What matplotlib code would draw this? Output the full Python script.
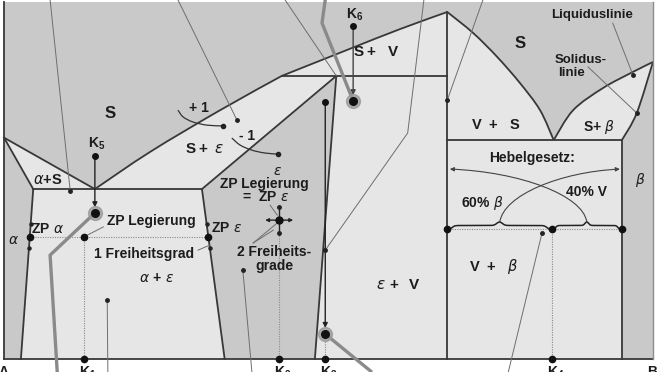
import numpy as np
import matplotlib
matplotlib.use("Agg")
import matplotlib.pyplot as plt
from matplotlib.patches import Polygon, PathPatch, FancyArrowPatch
from matplotlib.path import Path

plt.rcParams['font.family'] = ['Liberation Sans', 'DejaVu Sans']
plt.rcParams['mathtext.fontset'] = 'custom'
plt.rcParams['mathtext.rm'] = 'Liberation Sans'
plt.rcParams['mathtext.bf'] = 'Liberation Sans:bold'
plt.rcParams['mathtext.it'] = 'DejaVu Sans:italic'
plt.rcParams['mathtext.sf'] = 'Liberation Sans'

# ---- phase boundaries: composition in % B, temperature in relative units ----
T_TOP = 100.0
X_V = 68.3          # congruently melting compound V
T_V_MAX = 97.2
T_EUT1 = 47.6       # S -> alpha + epsilon
T_PERI = 79.3       # S + V -> epsilon
T_EUT2 = 61.3       # S -> V + beta

liq_alpha_x = [0.0, 14.0]
liq_alpha_T = [62.0, 47.6]
sol_alpha_x = [0.0, 4.5]
sol_alpha_T = [62.0, 47.6]
solvus_alpha_x = [4.5, 2.6]
solvus_alpha_T = [47.6, 0.0]

liq_left_x = [14.0, 22.5, 33.3, 42.8, 52.9, 61.0, 68.3]
liq_left_T = [47.6, 58.0, 69.7, 79.3, 86.6, 92.4, 97.2]
liq_v_x = [68.3, 72.3, 76.0, 79.5, 82.6, 84.7]
liq_v_T = [97.2, 91.3, 84.6, 77.3, 69.7, 61.3]
liq_beta_x = [84.7, 87.7, 92.3, 96.9, 100.0]
liq_beta_T = [61.3, 69.7, 75.9, 80.4, 83.2]
sol_beta_x = [100.0, 97.5, 95.2]
sol_beta_T = [83.2, 68.9, 61.3]
solvus_beta_x = [95.2, 95.2]
solvus_beta_T = [61.3, 0.0]

eps_left_x = [51.2, 30.5, 34.0]
eps_left_T = [79.3, 47.6, 0.0]
eps_right_x = [51.2, 47.9]
eps_right_T = [79.3, 0.0]

# ---- alloys ----
alloy_names = ['K_1', 'K_2', 'K_3', 'K_4']
alloy_x = [12.3, 42.4, 49.5, 84.4]
K5_x, K5_T_start, K5_T_end = 14.0, 56.9, 40.9
K6_x, K6_T_start, K6_T_end = 53.8, 93.3, 72.3
K3_T_start, K3_T_end = 72.0, 7.0

# state point of K1 in alpha + epsilon
ZP1_T = 34.2
ZP1_x = [3.97, 12.3, 31.49]
ZP1_marks_x = [4.11, 3.84, 31.22, 31.71]
ZP1_marks_T = [37.8, 31.1, 37.8, 31.1]
# state point of K2 inside epsilon
ZP2_T = 38.9
ZP2_dx, ZP2_dT = 2.16, 3.6
# lever rule for K4
LEVER_T = 36.4
lever_x = [68.3, 84.4, 95.2]

# leader lines
leaders = [
    ([7.1, 10.2], [100.6, 47.1]),
    ([26.8, 35.9], [100.6, 66.9]),
    ([43.3, 51.2], [100.6, 79.3]),
    ([64.7, 62.2, 49.5], [100.6, 63.3, 30.5]),
    ([73.8, 68.3], [100.6, 72.5]),
    ([93.8, 96.9], [94.1, 79.6]),
    ([90.0, 97.5], [81.8, 68.9]),
    ([15.9, 16.0], [16.5, -3.7]),
    ([36.8, 38.2], [24.9, -3.7]),
    ([82.9, 77.7], [35.3, -3.7]),
]
leader_dots = [(10.2, 47.1), (35.9, 66.9), (49.5, 30.5), (68.3, 72.5),
               (96.9, 79.6), (97.5, 68.9), (15.9, 16.5), (36.8, 24.9), (82.9, 35.3)]
short_leaders = [
    ([15.3, 12.3], [37.0, 34.2]),
    ([29.9, 31.7], [30.5, 31.9]),
    ([41.0, 42.1], [43.1, 40.3]),
    ([38.4, 42.1], [32.5, 38.1]),
    ([38.4, 41.5], [32.5, 36.1]),
]
paths_thick = [
    ([49.5, 49.0, 53.8], [100.6, 94.1, 72.3]),
    ([14.0, 7.1, 8.2], [40.9, 29.1, -3.7]),
    ([49.5, 56.7], [7.0, -3.7]),
]
arc_plus_x = [26.8, 27.6, 29.1, 31.3, 33.7]
arc_plus_T = [69.7, 67.8, 66.4, 65.5, 65.3]
arc_minus_x = [35.1, 36.4, 38.2, 40.2, 42.2]
arc_minus_T = [61.9, 59.9, 58.5, 57.7, 57.4]
lever_arc_a = [(76.4, 38.4), (77.0, 45.9), (85.7, 52.4), (94.9, 53.2)]
lever_arc_b = [(89.8, 38.4), (89.2, 45.9), (79.5, 52.4), (68.7, 53.2)]

DARK = '#c9c9c9'
LIGHT = '#e6e6e6'
EDGE = '#383838'
THIN = '#6e6e6e'
TXT = '#1c1c1c'

fig = plt.figure(figsize=(6.57, 3.72), dpi=100)
ax = fig.add_axes([0, 0, 1, 1])
ax.set_xlim(-0.62, 100.62)
ax.set_ylim(-3.64, 100.56)
ax.axis('off')


def curve(xs, ts):
    """Vertices and codes of a smooth Bezier curve through the given points."""
    p = np.column_stack([xs, ts]).astype(float)
    n = len(p)
    verts = [tuple(p[0])]
    codes = [Path.MOVETO]
    if n == 2:
        verts.append(tuple(p[1]))
        codes.append(Path.LINETO)
        return verts, codes
    for i in range(n - 1):
        p0 = p[i - 1] if i > 0 else p[i]
        p1, p2 = p[i], p[i + 1]
        p3 = p[i + 2] if i + 2 < n else p[i + 1]
        c1 = p1 + (p2 - p0) / 6.0
        c2 = p2 - (p3 - p1) / 6.0
        verts += [tuple(c1), tuple(c2), tuple(p2)]
        codes += [Path.CURVE4] * 3
    return verts, codes


def region(parts):
    """parts: list of (xs, ts, smooth) pieces joined into one closed shape."""
    verts, codes = [], []
    for xs, ts, smooth in parts:
        if smooth:
            v, c = curve(xs, ts)
        else:
            v = list(zip(xs, ts))
            c = [Path.MOVETO] + [Path.LINETO] * (len(v) - 1)
        if verts:
            c = [Path.LINETO] + c[1:]
        verts += v
        codes += c
    verts.append(verts[0])
    codes.append(Path.CLOSEPOLY)
    ax.add_patch(PathPatch(Path(verts, codes), fc=LIGHT, ec='none', zorder=1))


def boundary(xs, ts, smooth=False):
    if smooth:
        v, c = curve(xs, ts)
        ax.add_patch(PathPatch(Path(v, c), fc='none', ec=EDGE, lw=1.3, zorder=3))
    else:
        ax.plot(xs, ts, color=EDGE, lw=1.3, zorder=3, solid_joinstyle='miter')


ax.add_patch(Polygon([(0, 0), (100, 0), (100, T_TOP), (0, T_TOP)], closed=True,
                     fc=DARK, ec='none', zorder=0))

# two-phase fields
region([(liq_alpha_x + [sol_alpha_x[1]], liq_alpha_T + [sol_alpha_T[1]], False)])
region([(liq_left_x[:4], liq_left_T[:4], True),
        (eps_left_x[:2], eps_left_T[:2], False)])
region([([sol_alpha_x[1], eps_left_x[1], eps_left_x[2], solvus_alpha_x[1]],
         [T_EUT1, T_EUT1, 0, 0], False)])
region([(liq_left_x[3:], liq_left_T[3:], True), ([X_V], [T_PERI], False)])
region([([eps_right_x[0], X_V, X_V, eps_right_x[1]], [T_PERI, T_PERI, 0, 0], False)])
region([(liq_v_x, liq_v_T, True), ([X_V], [T_EUT2], False)])
region([(liq_beta_x, liq_beta_T, True), (sol_beta_x, sol_beta_T, True)])
region([([X_V, solvus_beta_x[0], solvus_beta_x[1], X_V], [T_EUT2, T_EUT2, 0, 0], False)])

# phase boundaries
boundary(liq_alpha_x, liq_alpha_T)
boundary(sol_alpha_x, sol_alpha_T)
boundary(solvus_alpha_x, solvus_alpha_T)
boundary(liq_left_x[:4], liq_left_T[:4], True)
boundary(liq_left_x[3:], liq_left_T[3:], True)
boundary(liq_v_x, liq_v_T, True)
boundary(liq_beta_x, liq_beta_T, True)
boundary(sol_beta_x, sol_beta_T, True)
boundary(solvus_beta_x, solvus_beta_T)
boundary(eps_left_x, eps_left_T)
boundary(eps_right_x, eps_right_T)
boundary([sol_alpha_x[1], eps_left_x[1]], [T_EUT1, T_EUT1])
boundary([liq_left_x[3], X_V], [T_PERI, T_PERI])
boundary([X_V, solvus_beta_x[0]], [T_EUT2, T_EUT2])
boundary([X_V, X_V], [0, T_V_MAX])

# frame
ax.plot([0, 0], [0, T_TOP], color=EDGE, lw=1.3, zorder=3)
ax.plot([0, 100], [0, 0], color=EDGE, lw=1.3, zorder=3)
ax.plot([100, 100], [0, T_TOP], color='#8c8c8c', lw=1.0, zorder=3)

# leader lines
for xs, ts in leaders + short_leaders:
    ax.plot(xs, ts, color=THIN, lw=0.7, zorder=4)
for x, t in leader_dots:
    ax.plot(x, t, 'o', color='#222222', ms=2.5, zorder=6)
for xs, ts in paths_thick:
    ax.plot(xs, ts, color='#8a8a8a', lw=2.4, zorder=5, solid_capstyle='butt')

# dotted alloy verticals
dot_kw = dict(color='#8a8a8a', lw=0.8, ls=(0, (1, 1.2)), zorder=4)
ax.plot([alloy_x[0]] * 2, [ZP1_T, 0], **dot_kw)
ax.plot([alloy_x[1]] * 2, [ZP2_T - ZP2_dT, 0], **dot_kw)
ax.plot([alloy_x[2]] * 2, [K3_T_end, 0], **dot_kw)
ax.plot([alloy_x[3]] * 2, [LEVER_T, 0], **dot_kw)
ax.plot([ZP1_x[0], ZP1_x[2]], [ZP1_T] * 2, **dot_kw)
ax.plot([lever_x[0], lever_x[2]], [LEVER_T] * 2, **dot_kw)

arrow_kw = dict(arrowstyle='-|>', color='#222222', lw=1.0, mutation_scale=7,
                shrinkA=0, shrinkB=0)
# cooling paths
ax.annotate('', xy=(K5_x, K5_T_end + 1.6), xytext=(K5_x, K5_T_start),
            arrowprops=arrow_kw, zorder=6)
ax.annotate('', xy=(K6_x, K6_T_end + 1.6), xytext=(K6_x, K6_T_start),
            arrowprops=dict(arrow_kw, color='#444444'), zorder=6)
ax.annotate('', xy=(alloy_x[2], K3_T_end + 1.7), xytext=(alloy_x[2], K3_T_start),
            arrowprops=arrow_kw, zorder=6)
for x, t in [(K5_x, K5_T_start), (K6_x, K6_T_start), (alloy_x[2], K3_T_start)]:
    ax.plot(x, t, 'o', color='#111111', ms=4, zorder=7)
for x, t in [(K5_x, K5_T_end), (K6_x, K6_T_end), (alloy_x[2], K3_T_end)]:
    ax.plot(x, t, 'o', color='#9a9a9a', ms=10, alpha=0.8, zorder=7)
    ax.plot(x, t, 'o', color='#111111', ms=5.5, zorder=8)

# state point K1
for x in ZP1_x:
    ax.plot(x, ZP1_T, 'o', color='#111111', ms=4.5, zorder=7)
ax.plot(ZP1_marks_x, ZP1_marks_T, 'o', color='#222222', ms=2.2, lw=0, zorder=7)

# state point K2 with its two degrees of freedom
k2 = alloy_x[1]
for dx in (-ZP2_dx, ZP2_dx):
    ax.annotate('', xy=(k2 + dx, ZP2_T), xytext=(k2, ZP2_T),
                arrowprops=dict(arrow_kw, mutation_scale=5), zorder=6)
ax.plot([k2, k2], [ZP2_T - ZP2_dT, ZP2_T + ZP2_dT], color='#222222', lw=1.0, zorder=6)
ax.plot([k2, k2], [ZP2_T - ZP2_dT, ZP2_T + ZP2_dT], 'o', color='#222222', ms=2.5, zorder=7)
ax.plot(k2, ZP2_T, 'o', color='#111111', ms=5, zorder=8)

# alloy markers on the composition axis
for x in alloy_x:
    ax.plot(x, 0, 'o', color='#111111', ms=4.5, zorder=7)

# +1 / -1 arcs
for xs, ts in ((arc_plus_x, arc_plus_T), (arc_minus_x, arc_minus_T)):
    v, c = curve(xs, ts)
    ax.add_patch(PathPatch(Path(v, c), fc='none', ec='#333333', lw=0.9, zorder=5))
    ax.plot(xs[-1], ts[-1], 'o', color='#222222', ms=3, zorder=6)


# lever rule braces
def brace(x0, x1, t0, h, k=40.0, n=80):
    u = np.linspace(0, 1, n)

    def sig(v):
        return 1 / (1 + np.exp(-k * v))

    def half(v):
        f = 0.5 * (sig(v - 0.06) + sig(v - 0.94))
        f0 = 0.5 * (sig(-0.06) + sig(-0.94))
        f1 = 0.5 * (sig(0.94) + sig(0.06))
        return (f - f0) / (f1 - f0)

    xm = 0.5 * (x0 + x1)
    xl = x0 + (xm - x0) * u
    xr = xm + (x1 - xm) * u
    yl = t0 + h * half(u)
    yr = t0 + h * half(1 - u)
    ax.plot(np.r_[xl, xr], np.r_[yl, yr], color='#222222', lw=1.1, zorder=6)


brace(lever_x[0] + 0.3, lever_x[1] - 0.3, LEVER_T, 2.0)
brace(lever_x[1] + 0.3, lever_x[2] - 0.3, LEVER_T, 2.0)
for x in lever_x:
    ax.plot(x, LEVER_T, 'o', color='#111111', ms=4.5, zorder=7)

for pts in (lever_arc_a, lever_arc_b):
    p = Path(pts, [Path.MOVETO, Path.CURVE4, Path.CURVE4, Path.CURVE4])
    ax.add_patch(FancyArrowPatch(path=p, arrowstyle='-|>', mutation_scale=6,
                                 color='#444444', lw=0.8, zorder=6))


# labels
def lab(x, t, s, size=10, **kw):
    ax.text(x, t, s, fontsize=size, color=TXT, ha='center', va='center',
            fontweight='bold', zorder=9, **kw)


lab(16.33, 68.9, 'S', 12)
lab(30.05, 70.3, '+ 1', 10)
lab(37.44, 62.5, '- 1', 10)
lab(30.97, 58.8, r'$\mathbf{S+}\ \epsilon$', 11)
lab(14.33, 60.2, r'$\mathbf{K_5}$', 10)
lab(54.08, 96.4, r'$\mathbf{K_6}$', 10)
lab(57.47, 86.0, r'$\mathbf{S+\ \ V}$', 11)
lab(79.5, 88.5, 'S', 12)
lab(90.6, 96.4, 'Liquiduslinie', 9.5)
lab(88.9, 83.75, 'Solidus-', 9.5)
lab(87.5, 80.1, 'linie', 9.5)
lab(75.8, 65.5, r'$\mathbf{V\ +\ \ S}$', 10.5)
lab(91.7, 65.0, r'$\mathbf{S}$+ $\beta$', 10)
lab(6.78, 50.1, r'$\alpha\mathbf{+S}$', 10.5)
lab(42.2, 52.7, r'$\epsilon$', 10)
lab(40.06, 49.0, 'ZP Legierung', 10)
lab(40.2, 45.4, r'$\mathbf{=\ ZP}\ \epsilon$', 10)
lab(81.36, 56.3, 'Hebelgesetz:', 10)
lab(98.0, 50.1, r'$\beta$', 10)
lab(89.7, 46.8, '40% V', 10)
lab(73.65, 43.7, r'$\mathbf{60\%}\ \beta$', 10)
lab(6.78, 36.4, r'$\mathbf{ZP}\ \alpha$', 10)
lab(1.39, 33.3, r'$\alpha$', 10)
lab(22.65, 38.65, 'ZP Legierung', 10)
lab(34.36, 36.7, r'$\mathbf{ZP}\ \epsilon$', 10)
lab(21.57, 29.4, '1 Freiheitsgrad', 10)
lab(41.6, 30.0, '2 Freiheits-', 10)
lab(41.6, 26.05, 'grade', 10)
lab(23.57, 22.7, r'$\alpha\ \mathbf{+}\ \epsilon$', 10)
lab(60.7, 20.7, r'$\epsilon\ \mathbf{+\ \ V}$', 11)
lab(75.5, 25.8, r'$\mathbf{V\ +}\ \ \beta$', 10.5)

# composition axis labels (run past the lower edge)
for name, x in zip(alloy_names, alloy_x):
    ax.text(x + 0.6, -4.8, r'$\mathbf{' + name + '}$', fontsize=10,
            color=TXT, ha='center', va='baseline', zorder=9)
ax.text(0.0, -4.8, 'A', fontsize=10, color=TXT, ha='center', va='baseline',
        fontweight='bold', zorder=9)
ax.text(99.9, -4.8, 'B', fontsize=10, color=TXT, ha='center', va='baseline',
        fontweight='bold', zorder=9)

fig.savefig('out.png', dpi=100, facecolor='white')
